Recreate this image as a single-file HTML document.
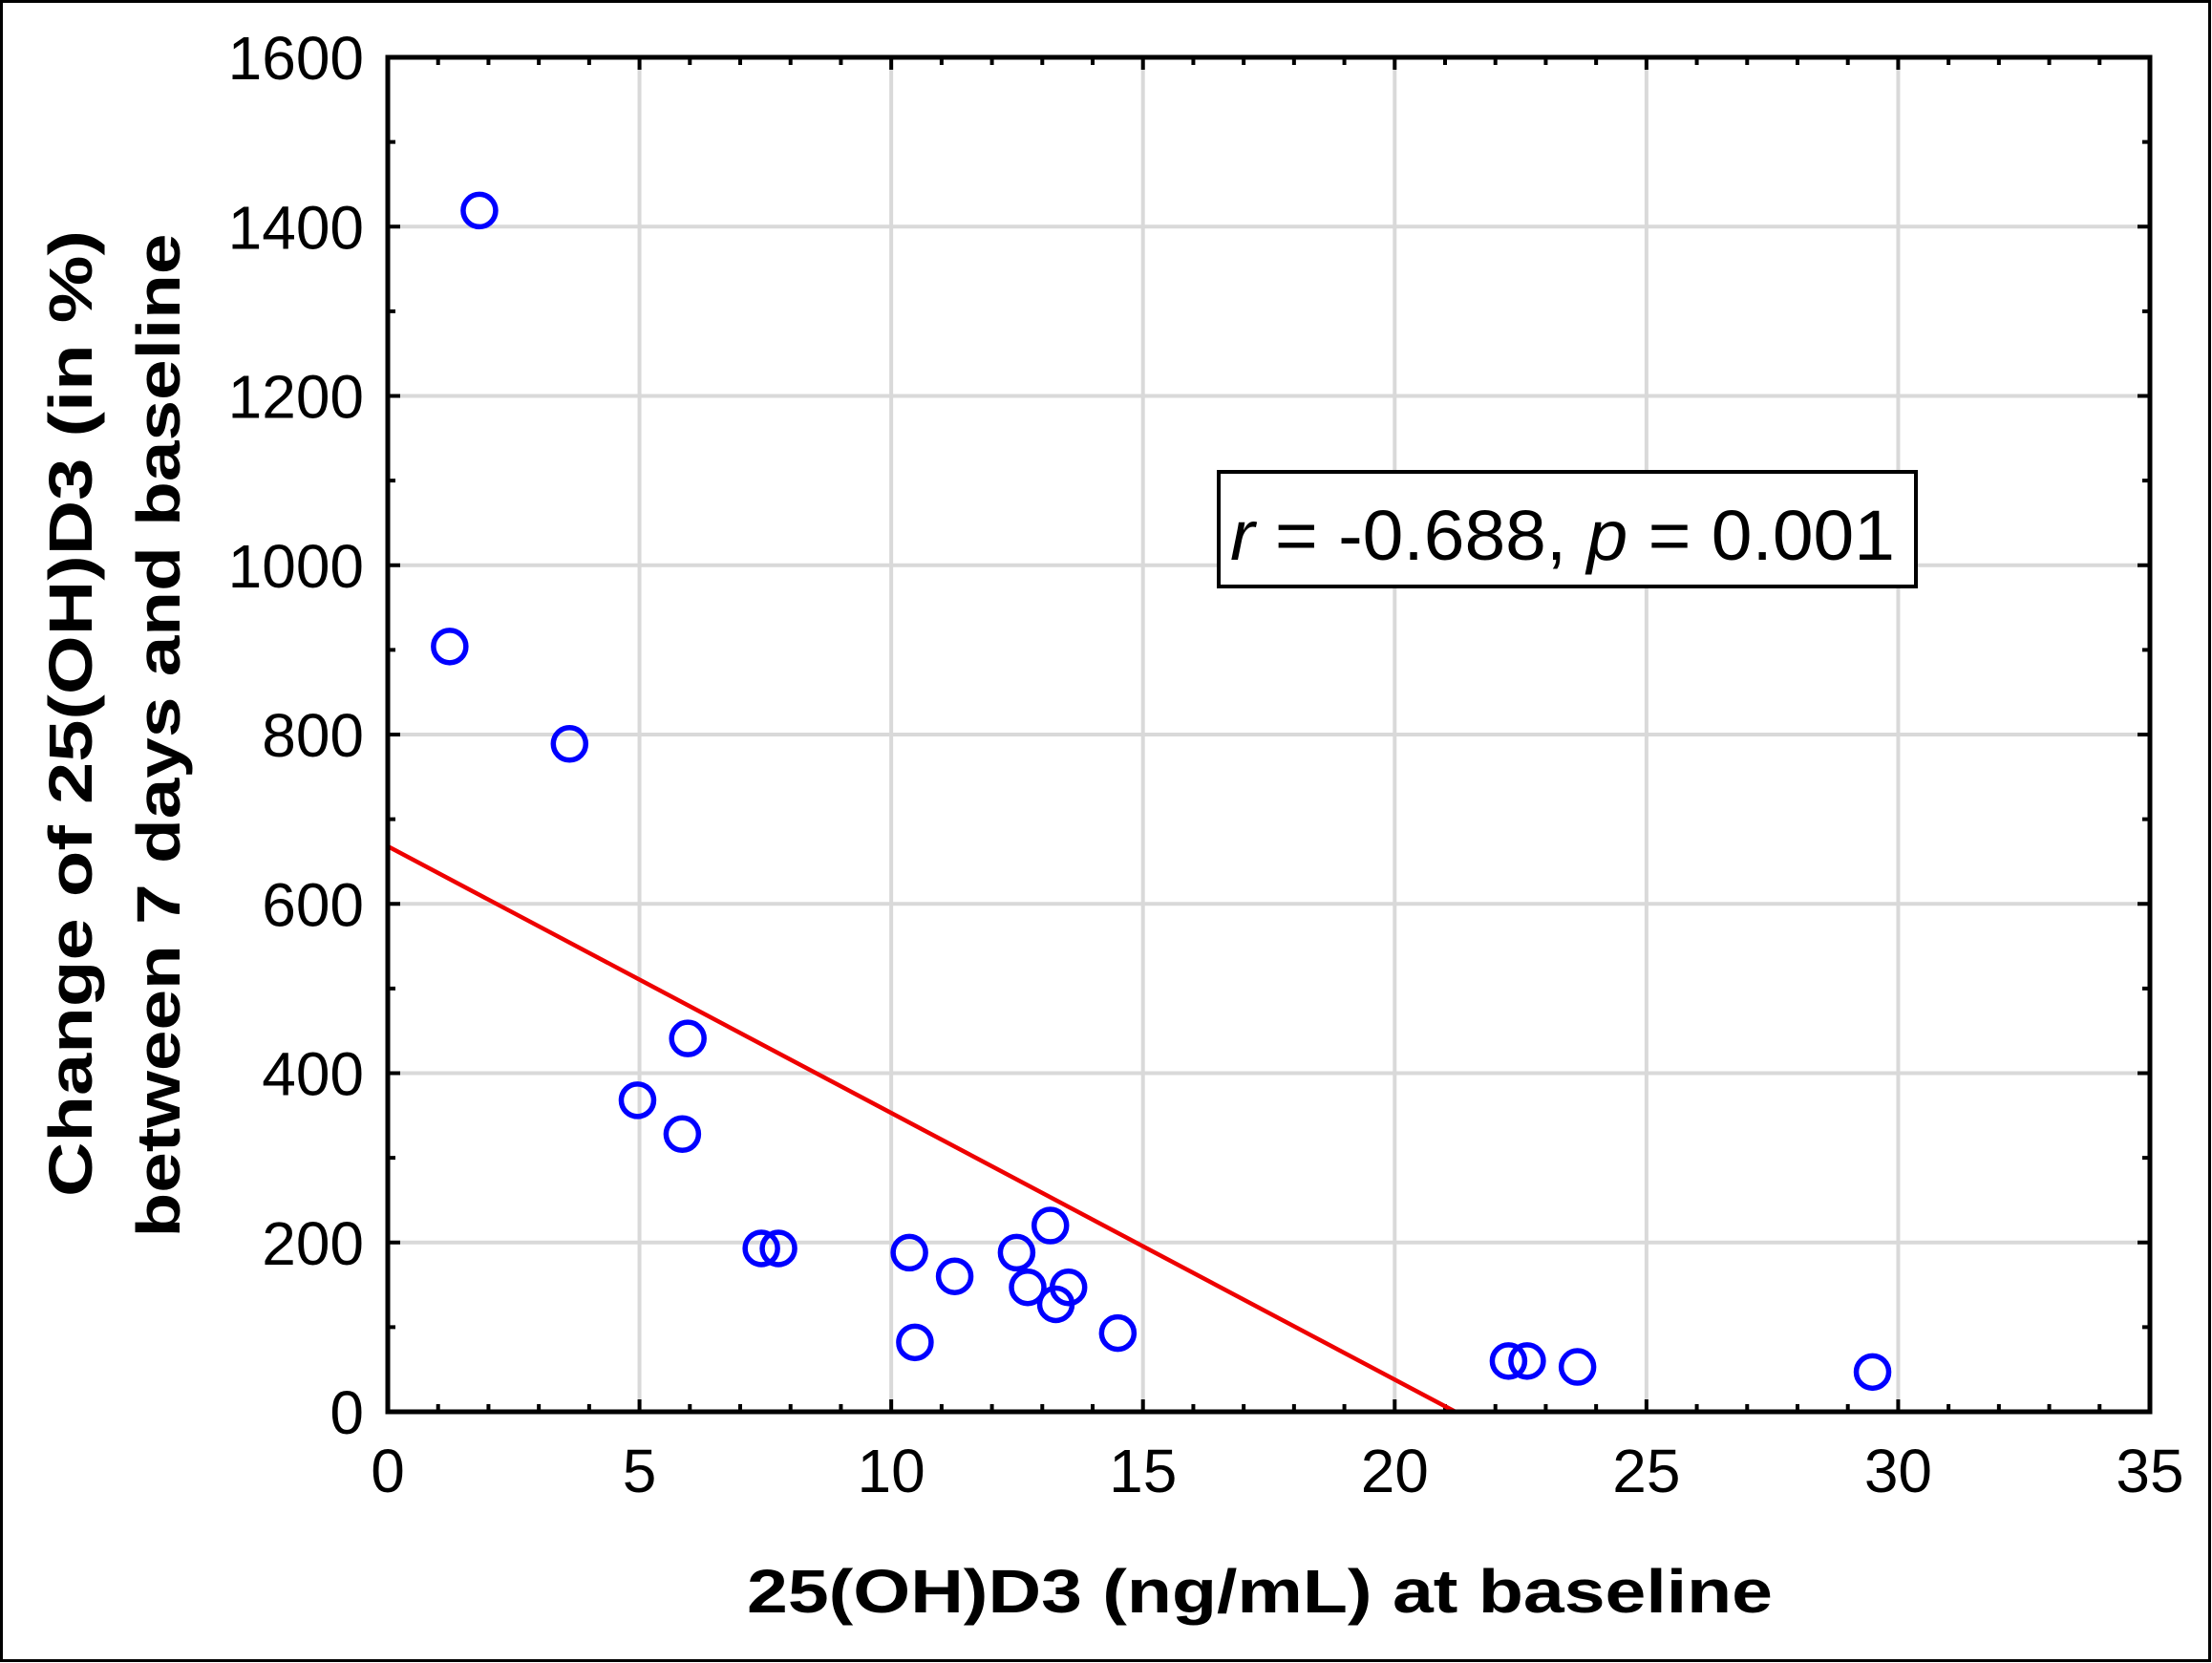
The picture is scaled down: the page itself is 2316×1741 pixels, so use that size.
<!DOCTYPE html>
<html><head><meta charset="utf-8"><style>
html,body{margin:0;padding:0;background:#fff;}
svg{display:block;font-family:"Liberation Sans",Arial,sans-serif;}
</style></head><body>
<svg id="chart" width="2316" height="1741" viewBox="0 0 2316 1741" xmlns="http://www.w3.org/2000/svg">
<rect x="1.5" y="1.5" width="2312" height="1737" fill="#fff" stroke="#000" stroke-width="3"/>
<g id="grid"></g>
<g id="ticks"></g>
<line id="fit" stroke="#ee0000" stroke-width="4.5"/>
<g id="points"></g>
<rect x="406" y="60" width="1845" height="1418" fill="none" stroke="#000" stroke-width="5"/>
<g id="xlabels"></g>
<g id="ylabels"></g>
<g>
<rect x="1276" y="494" width="730" height="120" fill="#fff" stroke="#000" stroke-width="4"/>
<text x="1288" y="586" font-size="74" textLength="696" lengthAdjust="spacingAndGlyphs"><tspan font-style="italic">r</tspan> = -0.688, <tspan font-style="italic">p</tspan> = 0.001</text>
</g>
<text x="1319" y="1688" font-size="64" font-weight="bold" text-anchor="middle" textLength="1074" lengthAdjust="spacingAndGlyphs">25(OH)D3 (ng/mL) at baseline</text>
<text transform="translate(96,747) rotate(-90)" font-size="64" font-weight="bold" text-anchor="middle" textLength="1012" lengthAdjust="spacingAndGlyphs">Change of 25(OH)D3 (in %)</text>
<text transform="translate(188,770) rotate(-90)" font-size="64" font-weight="bold" text-anchor="middle" textLength="1051" lengthAdjust="spacingAndGlyphs">between 7 days and baseline</text>
</svg>
<script>
const xVals=[1.82,1.23,3.61,5.96,4.96,5.85,7.42,7.76,10.36,10.47,11.26,12.49,13.16,12.71,13.52,13.27,14.5,22.26,22.63,23.63,29.49];
const yVals=[1419,904,789,441,368,328,193,193,188,82,160,188,220,147,147,127,93,60,60,53,47];
const xTicks=[0,5,10,15,20,25,30,35];
const yTicks=[0,200,400,600,800,1000,1200,1400,1600];
const fitIntercept=668;
const fitSlope=-31.5;
const L=406,R=2251,T=60,B=1478;
const X=v=>L+(v-0)/35*(R-L);
const Y=v=>B-(v-0)/1600*(B-T);
const NS='http://www.w3.org/2000/svg';
function mk(tag,parent,attrs){const e=document.createElementNS(NS,tag);for(const k in attrs)e.setAttribute(k,attrs[k]);parent.appendChild(e);return e;}
const grid=document.getElementById('grid'),ticks=document.getElementById('ticks');
xTicks.forEach(t=>{if(t>0&&t<35){const g=mk('line',grid,{x1:X(t),x2:X(t),y1:T,y2:B,stroke:'#d9d9d9','stroke-width':4});

}});
yTicks.forEach(t=>{if(t>0&&t<1600){const g=mk('line',grid,{x1:L,x2:R,y1:Y(t),y2:Y(t),stroke:'#d9d9d9','stroke-width':4});

}});
for(let v=0;v<=35;v++){const len=v%5===0?13:8;
mk('line',ticks,{x1:X(v),x2:X(v),y1:B,y2:B-len,stroke:'#000','stroke-width':4});
mk('line',ticks,{x1:X(v),x2:X(v),y1:T,y2:T+len,stroke:'#000','stroke-width':4});}
for(let v=0;v<=1600;v+=100){const len=v%200===0?13:8;
mk('line',ticks,{x1:L,x2:L+len,y1:Y(v),y2:Y(v),stroke:'#000','stroke-width':4});
mk('line',ticks,{x1:R,x2:R-len,y1:Y(v),y2:Y(v),stroke:'#000','stroke-width':4});}
const xl=document.getElementById('xlabels');
xTicks.forEach(t=>{const e=mk('text',xl,{x:X(t),y:1562,'font-size':64,'text-anchor':'middle'});e.textContent=t;

});
const yl=document.getElementById('ylabels');
yTicks.forEach(t=>{const e=mk('text',yl,{x:381,y:Y(t)+23,'font-size':64,'text-anchor':'end'});e.textContent=t;

});
const xEnd=-fitIntercept/fitSlope;
const f=document.getElementById('fit');
f.setAttribute('x1',X(0));f.setAttribute('y1',Y(fitIntercept));f.setAttribute('x2',X(xEnd));f.setAttribute('y2',Y(0));
const pts=document.getElementById('points');
xVals.forEach((x,i)=>{const c=mk('circle',pts,{cx:X(x),cy:Y(yVals[i]),r:17,fill:'none',stroke:'#0000ff','stroke-width':5.5});

});
</script>
</body></html>
